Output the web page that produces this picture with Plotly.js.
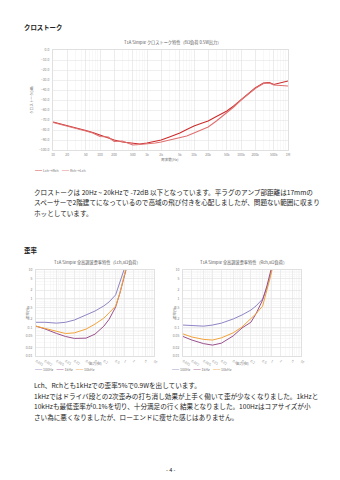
<!DOCTYPE html>
<html><head><meta charset="utf-8">
<script src="https://cdn.plot.ly/plotly-3.0.1.min.js"></script>
<style>html,body{margin:0;padding:0;background:#fff}#c{width:340px;height:480px}</style>
</head><body><div id="c"></div><script>
// ---- Crosstalk data ----
const ctFreq = [10,15,20,30,50,70,100,150,200,300,500,700,1000,1500,2000,3000,5000,7000,10000,15000,20000,30000,50000,70000,100000,150000,200000,300000,400000,500000,700000,1000000];
const ctLR = [-72,-74,-75.5,-77.5,-80.5,-82.5,-85,-88,-90,-92,-93.5,-94,-93,-91.5,-90,-87,-83,-79.5,-76,-73,-71,-66.5,-61,-56,-50,-43,-38,-33,-32.5,-34.5,-33,-31];
const ctRL = [-72.5,-74.5,-76,-78,-81,-83,-86.5,-87,-91.5,-91,-95,-94.5,-94,-93,-92,-90,-88,-86,-83,-79.5,-77,-71,-63,-57,-50,-43.5,-38.5,-33.5,-33,-35,-35.5,-36];
const ctNames = ['Lch→Rch','Rch→Lch'];
const ctColors = ['#cc2b2b','#e07070'];
const ctXTickVals = [10,20,50,100,200,500,1000,2000,5000,10000,20000,50000,100000,200000,500000,1000000];
const ctXTickText = ['10','20','50','100','200','500','1k','2k','5k','10k','20k','50k','100k','200k','500k','1M'];

// ---- THD data ----
const thdPower = [0.001,0.002,0.005,0.01,0.02,0.05,0.1,0.2,0.3,0.5,0.7,0.9,1.0,1.2];
const thdL100 = [0.15,0.15,0.14,0.15,0.18,0.27,0.37,0.56,0.77,1.35,3.5,7.2,10,20];
const thdL1k  = [0.11,0.088,0.061,0.048,0.041,0.042,0.058,0.11,0.19,0.51,1.57,5.0,6.5,13];
const thdL10k = [0.11,0.092,0.072,0.061,0.064,0.087,0.13,0.21,0.32,0.55,1.6,4.5,6.7,15];
const thdR100 = [0.12,0.117,0.11,0.12,0.14,0.195,0.27,0.4,0.56,0.97,2.35,6.2,10,20];
const thdR1k  = [0.048,0.036,0.027,0.024,0.028,0.05,0.095,0.15,0.3,0.9,2.8,8.5,12,25];
const thdR10k = [0.059,0.046,0.038,0.036,0.043,0.064,0.103,0.2,0.3,0.55,1.8,5.3,8.5,18];
const thdNames = ['100Hz','1kHz','10kHz'];
const thdColors = ['#8f84c4','#9a4f8c','#f2a33a'];
const thdXTickVals = [0.001,0.002,0.005,0.01,0.02,0.05,0.1,0.2,0.5,1,2,5,10];
const thdYTickVals = [0.01,0.02,0.05,0.1,0.2,0.5,1,2,5,10];

const W = 340, H = 480;
const px = x => x / W;
const py = y => 1 - y / H;
const FONT = '"Noto Sans CJK JP", "Noto Sans", sans-serif';

const traces = [
  {x: ctFreq, y: ctLR, name: ctNames[0], xaxis:'x', yaxis:'y', mode:'lines', line:{color:ctColors[0], width:1.1}},
  {x: ctFreq, y: ctRL, name: ctNames[1], xaxis:'x', yaxis:'y', mode:'lines', line:{color:ctColors[1], width:1.1}},
];
[[thdL100,thdL1k,thdL10k,'x2','y2'],[thdR100,thdR1k,thdR10k,'x3','y3']].forEach(s => {
  for (let i = 0; i < 3; i++) {
    traces.push({x: thdPower, y: s[i], name: thdNames[i], xaxis: s[3], yaxis: s[4], mode:'lines',
      line:{color: thdColors[i], width:1}});
  }
});

const tickFont = {size:3.4, color:'#888', family: FONT};
const gridC = '#e4e4e4', minorC = '#f1f1f1';
function logX(domain, range, vals, text) {
  const a = {domain, type:'log', range, tickmode:'array', tickvals: vals, tickfont: tickFont,
    showgrid:true, gridcolor:gridC, gridwidth:0.6, zeroline:false, showline:true, linecolor:'#e0e0e0', mirror:true,
    ticks:'', ticklabelstandoff:1, minor:{dtick:'D1', showgrid:true, gridcolor:minorC, gridwidth:0.5}, fixedrange:true};
  if (text) a.ticktext = text;
  return a;
}

const layout = {
  width: W, height: H, margin:{l:0,r:0,t:0,b:0}, paper_bgcolor:'#fff', plot_bgcolor:'#fff',
  showlegend:false, font:{family: FONT, color:'#222'},
  xaxis: Object.assign(logX([px(53),px(288)],[1,6],ctXTickVals,ctXTickText), {anchor:'y'}),
  yaxis: {domain:[py(150),py(50)], range:[-100,0], dtick:10, tickformat:'.1f', tickfont:tickFont, anchor:'x',
    showgrid:true, gridcolor:gridC, gridwidth:0.6, zeroline:false, showline:true, linecolor:'#e0e0e0', mirror:true, ticks:'', ticklabelstandoff:2},
  xaxis2: Object.assign(logX([px(36),px(154)],[-3,1],thdXTickVals), {anchor:'y2'}),
  yaxis2: {domain:[py(356),py(270)], type:'log', range:[-2,1], tickmode:'array', tickvals:thdYTickVals, tickfont:tickFont, anchor:'x2',
    showgrid:true, gridcolor:gridC, gridwidth:0.6, zeroline:false, showline:true, linecolor:'#e0e0e0', mirror:true, ticks:'', ticklabelstandoff:2,
    minor:{dtick:'D1', showgrid:true, gridcolor:minorC, gridwidth:0.5}},
  xaxis3: Object.assign(logX([px(183),px(301)],[-3,1],thdXTickVals), {anchor:'y3'}),
  yaxis3: {domain:[py(356),py(270)], type:'log', range:[-2,1], tickmode:'array', tickvals:thdYTickVals, tickfont:tickFont, anchor:'x3',
    showgrid:true, gridcolor:gridC, gridwidth:0.6, zeroline:false, showline:true, linecolor:'#e0e0e0', mirror:true, ticks:'', ticklabelstandoff:2,
    minor:{dtick:'D1', showgrid:true, gridcolor:minorC, gridwidth:0.5}},
  annotations: []
};

function ann(x, y, text, size, opts) {
  layout.annotations.push(Object.assign({xref:'paper', yref:'paper', x: px(x), y: py(y), text, showarrow:false,
    xanchor:'left', yanchor:'middle', font:{size, family: FONT, color:'#222'}}, opts || {}));
}
// headings
ann(22, 27, '<b>クロストーク</b>', 6.4);
ann(22, 250, '<b>歪率</b>', 6.4);
// chart titles
ann(172, 42, 'T1A Simple クロストーク特性（8Ω負荷 0.5W出力）', 4.2, {xanchor:'center', font:{size:4.2, family:FONT, color:'#555'}});
ann(97, 262, 'T1A Simple 全高調波歪率特性（Lch,8Ω負荷）', 4.2, {xanchor:'center', font:{size:4.2, family:FONT, color:'#555'}});
ann(243, 262, 'T1A Simple 全高調波歪率特性（Rch,8Ω負荷）', 4.2, {xanchor:'center', font:{size:4.2, family:FONT, color:'#555'}});
// axis titles
const axF = {size:3.6, family:FONT, color:'#777'};
ann(31, 100, 'クロストーク(dB)', 3.6, {xanchor:'center', textangle:-90, font:axF});
ann(170, 159, '周波数(Hz)', 3.6, {xanchor:'center', font:axF});
ann(27, 313, '歪率(%)', 3.6, {xanchor:'center', textangle:-90, font:axF});
ann(174, 313, '歪率(%)', 3.6, {xanchor:'center', textangle:-90, font:axF});
ann(95, 363, '出力(W)', 3.6, {xanchor:'center', font:axF});
ann(242, 363, '出力(W)', 3.6, {xanchor:'center', font:axF});
// legends
function legendText(names, colors) {
  return names.map((n,i) => '<span style="color:' + colors[i] + '">━━</span> ' + n).join('    ');
}
ann(33, 170, legendText(ctNames, ctColors), 3.4, {font:axF});
ann(33, 369, legendText(thdNames, thdColors), 3.4, {font:axF});
ann(170, 369, legendText(thdNames, thdColors), 3.4, {font:axF});
// body text
const bodyF = 6.6;
ann(32, 191.5, 'クロストークは 20Hz ~ 20kHzで -72dB 以下となっています。平ラグのアンプ部距離は17mmの', bodyF);
ann(32, 202, 'スペーサーで2階建てになっているので高域の飛び付きを心配しましたが、問題ない範囲に収まり', bodyF);
ann(32, 213, 'ホッとしています。', bodyF);
ann(32, 385, 'Lch、Rchとも1kHzでの歪率5%で0.9Wを出しています。', bodyF);
ann(32, 395.5, '1kHzではドライバ段との2次歪みの打ち消し効果が上手く働いて歪が少なくなりました。1kHzと', bodyF);
ann(32, 406, '10kHzも最低歪率が0.1%を切り、十分満足の行く結果となりました。100Hzはコアサイズが小', bodyF);
ann(32, 416.5, 'さい為に悪くなりましたが、ローエンドに痩せた感じはありません。', bodyF);
ann(170, 470, '- 4 -', 5.5, {xanchor:'center'});

Plotly.newPlot('c', traces, layout, {staticPlot:true, displayModeBar:false});
</script></body></html>
